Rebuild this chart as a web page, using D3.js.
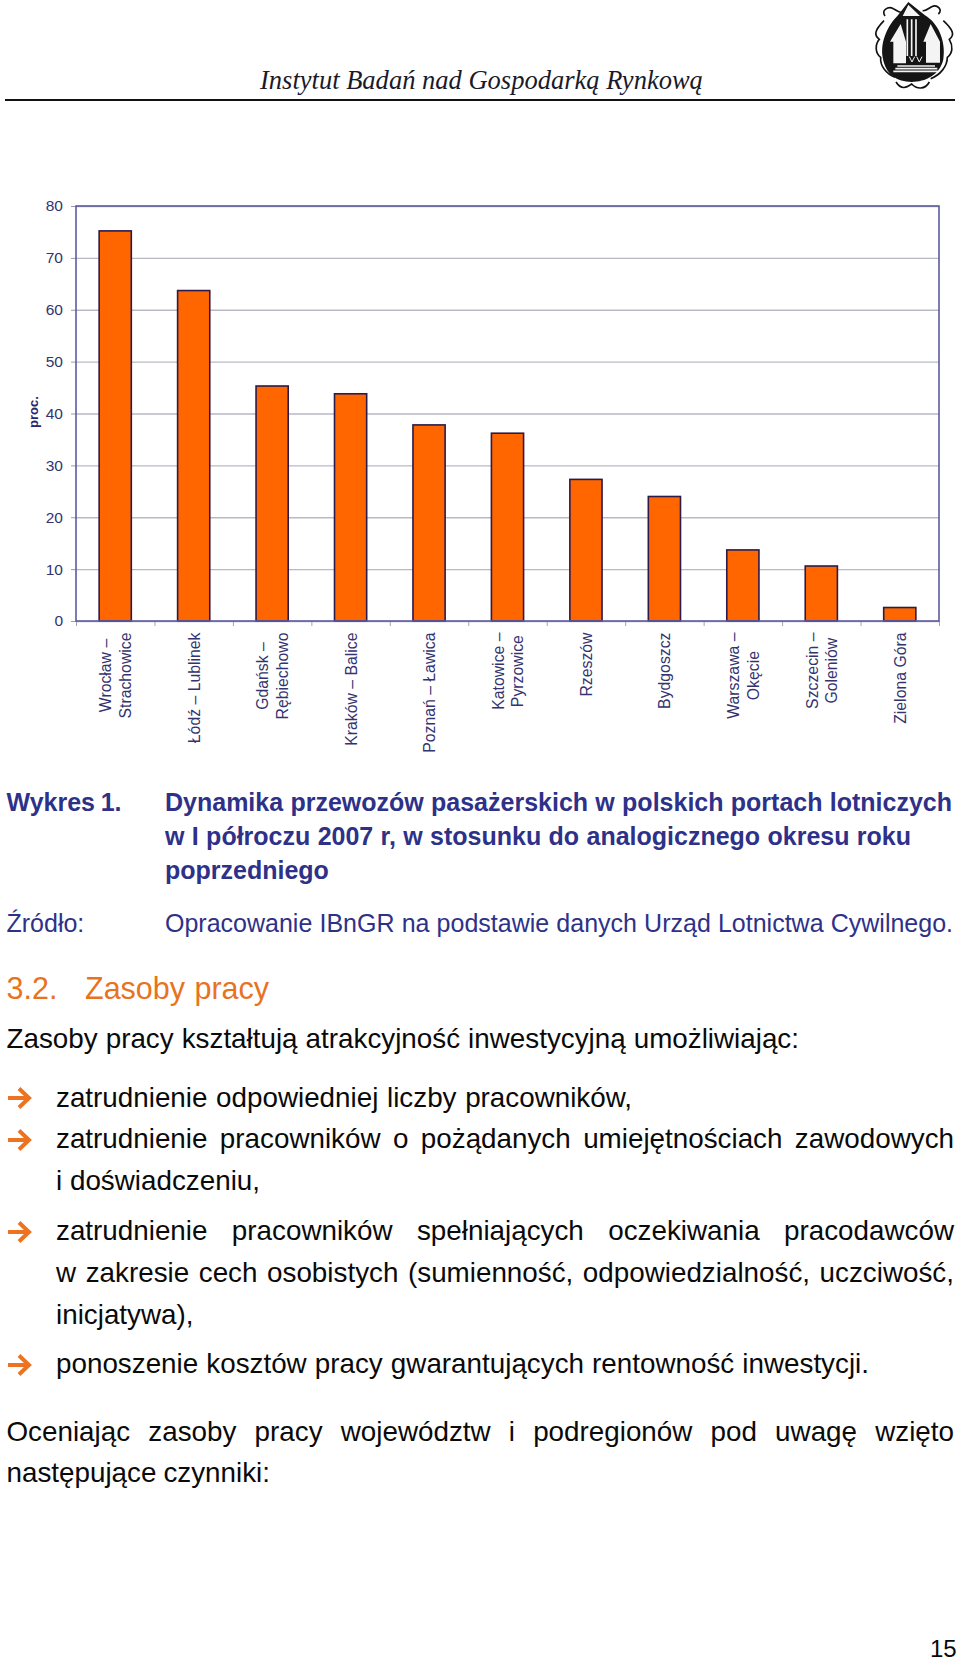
<!DOCTYPE html>
<html><head><meta charset="utf-8">
<style>html,body{margin:0;padding:0;background:#fff}svg{display:block}</style>
<script src="https://cdn.jsdelivr.net/npm/d3@7/dist/d3.min.js"></script>
</head><body><svg id="c" width="960" height="1661"></svg>
<script>
const categories=[["Wrocław –","Strachowice"],["Łódź – Lublinek"],["Gdańsk –","Rębiechowo"],["Kraków – Balice"],["Poznań – Ławica"],["Katowice –","Pyrzowice"],["Rzeszów"],["Bydgoszcz"],["Warszawa –","Okęcie"],["Szczecin –","Goleniów"],["Zielona Góra"]];
const values=[75.2,63.7,45.3,43.8,37.8,36.2,27.3,24.0,13.7,10.6,2.6];
const yTicks=[0,10,20,30,40,50,60,70,80];
const yTitle="proc.";
const headerText="Instytut Badań nad Gospodarką Rynkową";
// [text, x0, x1, baseline, style]
const textLines=[
["Wykres 1.",6.5,121.5,811,"b"],
["Dynamika przewozów pasażerskich w polskich portach lotniczych",165,952,811,"b"],
["w I półroczu 2007 r, w stosunku do analogicznego okresu roku",165,911,845,"b"],
["poprzedniego",165,328,879,"b"],
["Źródło:",6.5,83,932,"s"],
["Opracowanie IBnGR na podstawie danych Urząd Lotnictwa Cywilnego.",165,953,932,"s"],
["3.2.",6.5,54,999,"h"],
["Zasoby pracy",85,269,999,"h"],
["Zasoby pracy kształtują atrakcyjność inwestycyjną umożliwiając:",6.5,799,1048,"t"],
["zatrudnienie odpowiedniej liczby pracowników,",56,632,1107,"t"],
["zatrudnienie pracowników o pożądanych umiejętnościach zawodowych",56,954,1148,"t"],
["i doświadczeniu,",56,260,1190,"t"],
["zatrudnienie pracowników spełniających oczekiwania pracodawców",56,954,1240,"t"],
["w zakresie cech osobistych (sumienność, odpowiedzialność, uczciwość,",56,954,1282,"t"],
["inicjatywa),",56,193,1324,"t"],
["ponoszenie kosztów pracy gwarantujących rentowność inwestycji.",56,869,1373,"t"],
["Oceniając zasoby pracy województw i podregionów pod uwagę wzięto",6.5,954,1441,"t"],
["następujące czynniki:",6.5,270,1482,"t"],
["15",930,955,1657,"n"]];
const bulletY=[1098,1140,1232,1365];
const styles={b:{s:25,w:700,c:"#2e3188"},s:{s:25,w:400,c:"#2e3188"},h:{s:30.5,w:400,c:"#e8731f"},t:{s:27.8,w:400,c:"#0a0a0a"},n:{s:24,w:400,c:"#0a0a0a"}};
const SANS='"Liberation Sans",Arial,sans-serif';
const svg=d3.select("#c");

// header
const hd=svg.append("text").attr("x",260).attr("y",89).attr("font-family",'"Liberation Serif",serif').attr("font-style","italic").attr("font-size",26).attr("fill","#1a1a2a").text(headerText);
hd.attr("font-size",26*443/hd.node().getComputedTextLength());
svg.append("rect").attr("x",5).attr("y",99).attr("width",950).attr("height",2).attr("fill","#111");

// logo
const lg=svg.append("g").attr("transform","translate(860,0) scale(0.3333)");
lg.append("path").attr("d","M75,48 C62,30 85,18 100,26 C112,32 118,40 126,36 M235,42 C250,30 232,12 215,20 C205,25 198,34 188,32 M72,62 C45,90 40,105 58,118 C44,135 46,160 62,172 C60,200 80,222 105,232 M250,62 C280,90 285,105 268,118 C280,138 278,160 262,172 C262,200 240,225 212,236 M108,246 C125,272 140,262 155,252 C170,268 195,270 208,246").attr("fill","none").attr("stroke","#111").attr("stroke-width",5);
lg.append("path").attr("d","M145,6 L195,46 C238,72 258,128 250,178 C240,226 195,246 155,246 C112,246 76,224 68,172 C60,122 86,74 112,48 Z").attr("fill","#151515");
lg.append("path").attr("d","M145,14 L180,48 L128,48 Z M90,125 L122,72 L138,125 L138,190 L100,190 L100,125 Z M190,125 L212,72 L240,125 L240,188 L198,188 L198,125 Z").attr("fill","#f4f4f4");
lg.append("path").attr("d","M142,58 V168 M155,58 V168 M168,58 V168 M112,198 H225 M106,206 H232 M100,214 H236").attr("stroke","#f4f4f4").attr("stroke-width",5).attr("fill","none");
lg.append("path").attr("d","M148,170 L156,186 L164,170 M170,170 L178,186 L186,170").attr("stroke","#f4f4f4").attr("stroke-width",3).attr("fill","none");

// chart
const m={l:76,r:939,t:206,b:621};
const x=d3.scaleBand().domain(d3.range(values.length)).range([m.l,m.r]).paddingInner(0.59).paddingOuter(0.295);
const y=d3.scaleLinear().domain([0,80]).range([m.b,m.t]);
const edge=d3.scaleLinear().domain([0,values.length]).range([m.l,m.r]);
const navy="#33336f", frame="#5c5c9f";

svg.append("g").attr("transform",`translate(${m.l},0)`).call(d3.axisLeft(y).tickValues(yTicks).tickSize(-(m.r-m.l)).tickPadding(0).tickFormat(()=>""))
 .call(g=>g.select(".domain").remove())
 .call(g=>g.selectAll("line").attr("stroke","#b9b9c6").attr("stroke-width",1.4));
svg.append("g").attr("transform",`translate(${m.l},0)`).call(d3.axisLeft(y).tickValues(yTicks).tickSize(5).tickPadding(8))
 .call(g=>g.select(".domain").remove())
 .call(g=>g.selectAll("line").attr("stroke","#9a9aaa"))
 .call(g=>g.selectAll("text").attr("font-family",SANS).attr("font-size",15.5).attr("fill",navy));
svg.append("g").attr("transform",`translate(0,${m.b})`).call(d3.axisBottom(edge).ticks(values.length).tickSize(5).tickFormat(()=>""))
 .call(g=>g.select(".domain").remove())
 .call(g=>g.selectAll("line").attr("stroke","#a5a5b0"));

svg.append("g").selectAll("rect").data(values).join("rect")
 .attr("x",(d,i)=>x(i)).attr("width",x.bandwidth()).attr("y",d=>y(d)).attr("height",d=>y(0)-y(d))
 .attr("fill","#ff6600").attr("stroke","#2c1a4a").attr("stroke-width",1.6);

svg.append("rect").attr("x",m.l).attr("y",m.t).attr("width",m.r-m.l).attr("height",m.b-m.t).attr("fill","none").attr("stroke",frame).attr("stroke-width",1.6);

svg.append("text").attr("transform",`translate(37.5,412) rotate(-90)`).attr("text-anchor","middle").attr("font-family",SANS).attr("font-weight",700).attr("font-size",13).attr("fill","#26266e").text(yTitle);

// category labels: block hangs below axis, lines centred in block
const labelTop=632.5, lineGap=19.5;
categories.forEach((lines,i)=>{
 const cx=x(i)+x.bandwidth()/2;
 const ts=lines.map(t=>svg.append("text").attr("font-family",SANS).attr("font-size",15.8).attr("fill",navy).attr("text-anchor","middle").text(t));
 const w=d3.max(ts,t=>t.node().getComputedTextLength());
 ts.forEach((t,k)=>{
  const bx=cx+6+(k-(lines.length-1)/2)*lineGap;
  t.attr("transform",`translate(${bx},${labelTop+w/2}) rotate(-90)`);
 });
});

// text lines, fitted by word spacing to the measured ends
textLines.forEach(([txt,x0,x1,yy,st])=>{
 const s=styles[st];
 const t=svg.append("text").attr("x",x0).attr("y",yy).attr("font-family",SANS).attr("font-size",s.s).attr("font-weight",s.w).attr("fill",s.c).text(txt);
 const n=txt.split(" ").length-1, w=t.node().getComputedTextLength();
 if(n>0) t.attr("word-spacing",(x1-x0-w)/n);
});

// bullets
svg.append("g").selectAll("path").data(bulletY).join("path")
 .attr("transform",d=>`translate(8,${d})`)
 .attr("d","M0,0 H20 M11,-9.5 L21,0 L11,9.5")
 .attr("fill","none").attr("stroke","#ee7320").attr("stroke-width",4);
</script></body></html>
